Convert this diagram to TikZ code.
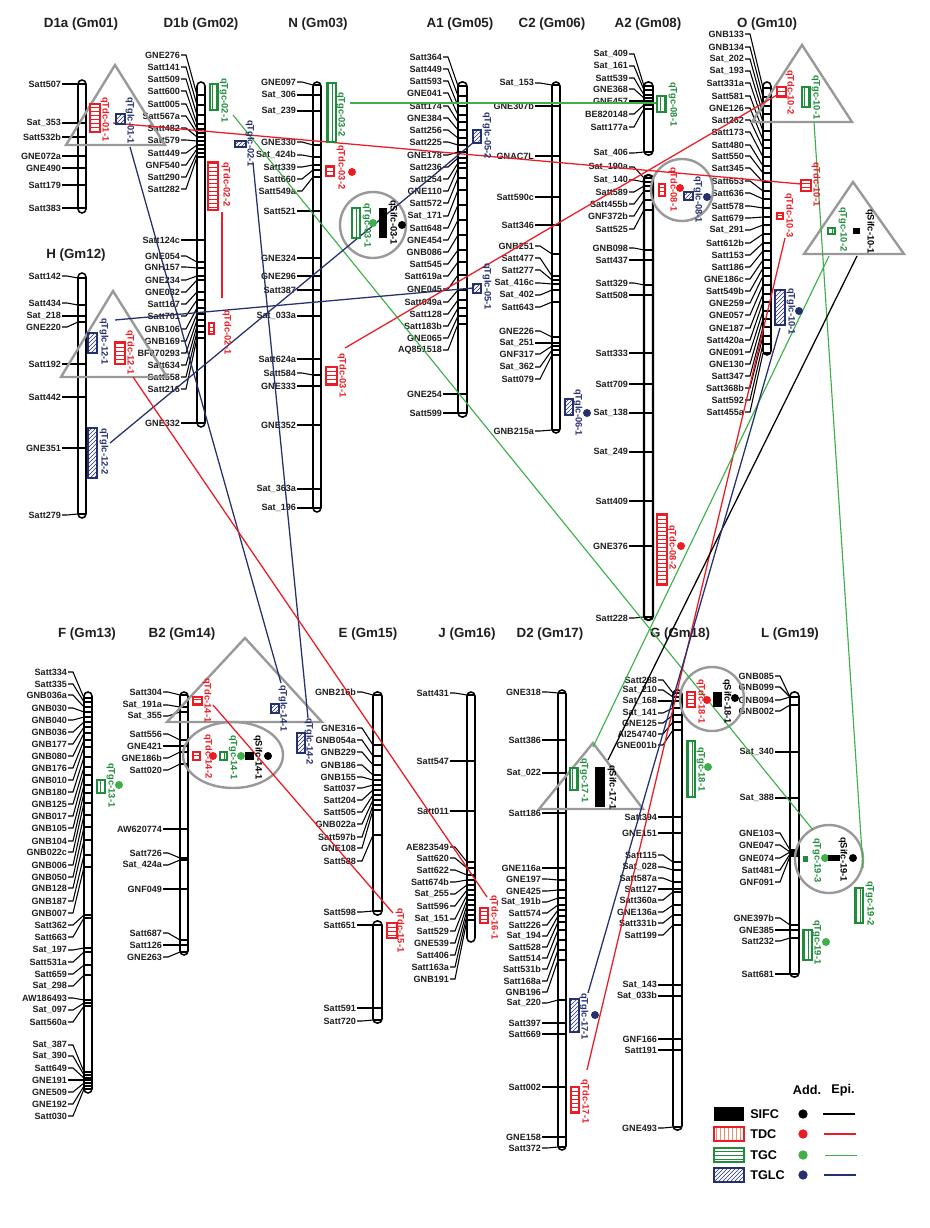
\documentclass[tikz,border=0pt]{standalone}
\usepackage{fontspec}
\setmainfont{Liberation Sans}
\usetikzlibrary{patterns}
\definecolor{qred}{HTML}{EC1C24}
\definecolor{qgreen}{HTML}{1F8B3B}
\definecolor{qlgreen}{HTML}{3DB049}
\definecolor{qblue}{HTML}{25306E}
\definecolor{qgray}{HTML}{999999}
\definecolor{qorange}{HTML}{F08C6A}
\tikzset{
 chr/.style={draw=black, line width=1.15pt, fill=white, rounded corners=3pt},
 mcon/.style={line width=0.8pt},
 mtick/.style={line width=1.15pt},
 mlab/.style={font=\fontsize{6.8}{7}\selectfont\bfseries, anchor=east, inner sep=0.6pt, text=black!88},
 ttl/.style={font=\fontsize{10}{12}\selectfont\bfseries, inner sep=0pt, text=black!88},
 qlab/.style={font=\fontsize{7}{8}\selectfont\bfseries, rotate=-90, anchor=west, inner sep=0pt},
 tdcbox/.style={draw=qred, line width=0.9pt, preaction={fill=white}, pattern=horizontal lines, pattern color=qred},
 tgcbox/.style={draw=qgreen, line width=0.9pt, preaction={fill=white}, pattern=vertical lines, pattern color=qgreen},
 tglcbox/.style={draw=qblue, line width=0.9pt, preaction={fill=white}, pattern=north east lines, pattern color=qblue},
 sifcbox/.style={fill=black},
 hilite/.style={draw=qgray, line width=1.8pt},
 epi/.style={line width=0.95pt},
 gepi/.style={line width=0.85pt, qlgreen},
 qdot/.style={circle, inner sep=0pt, minimum size=6pt, draw=none},
 legl/.style={font=\fontsize{9.5}{11}\selectfont\bfseries, anchor=west, inner sep=0pt},
 legh/.style={font=\fontsize{9.5}{11}\selectfont\bfseries, inner sep=0pt},
}
\newcommand{\chromo}[4]{\draw[chr] (#1,#3) rectangle (#2,#4);}
\newcommand{\mkset}[5]{%
 \foreach \ly/\ty/\nm in {#5}{%
   \node[mlab] (#1-\ly) at (#2,\ly) {\nm};
   \draw[mcon] (#1-\ly.east) -- (#2+5,\ly) -- (#3,\ty);
   \draw[mtick] (#3,\ty) -- (#4,\ty);
 }}
\begin{document}
\begin{tikzpicture}[x=0.75pt,y=-0.75pt]
\fill[white] (0,0) rectangle (930,1228);
\useasboundingbox (0,0) rectangle (930,1228);

% ---------- titles ----------
\node[ttl] (tD1a) at (81,24) {D1a (Gm01)};
\node[ttl] (tD1b) at (201,24) {D1b (Gm02)};
\node[ttl] (tN) at (318,24) {N (Gm03)};
\node[ttl] (tA1) at (460,24) {A1 (Gm05)};
\node[ttl] (tC2) at (552,24) {C2 (Gm06)};
\node[ttl] (tA2) at (648,24) {A2 (Gm08)};
\node[ttl] (tO) at (767,24) {O (Gm10)};
\node[ttl] (tH) at (76,255) {H (Gm12)};
\node[ttl] (tF) at (87,634) {F (Gm13)};
\node[ttl] (tB2) at (182,634) {B2 (Gm14)};
\node[ttl] (tE) at (368,634) {E (Gm15)};
\node[ttl] (tJ) at (467,634) {J (Gm16)};
\node[ttl] (tD2) at (550,634) {D2 (Gm17)};
\node[ttl] (tG) at (680,634) {G (Gm18)};
\node[ttl] (tL) at (790,634) {L (Gm19)};

% ---------- chromosomes ----------
\chromo{78}{86}{80}{213}
\mkset{d1a}{62}{78}{86}{84/84/Satt507,123/123/Sat\_353,137/137/Satt532b,156/156/GNE072a,168/168/GNE490,185/185/Satt179,208/208/Satt383}

\chromo{197}{205}{82}{427}
\mkset{d1b}{181}{197}{205}{55/95/GNE276,67/105/Satt141,79/115/Satt509,91/124/Satt600,104/129/Satt005,116/133/Satt567a,128/137/Satt482,140/141/Satt579,153/145/Satt449,165/149/GNF540,177/153/Satt290,189/157/Satt282,240/240/Satt124c,256/262/GNE054,267/268/GNH157,280/276/GNE234,292/280/GNE032,304/292/Satt167,316/300/Satt701,329/308/GNB106,341/314/GNB169,353/320/BF070293,365/326/Satt634,377/332/Satt558,389/338/Satt216,423/423/GNE332}

\chromo{78}{86}{273}{518}
\mkset{h}{62}{78}{86}{276/278/Satt142,303/305/Satt434,316/316/Sat\_218,327/322/GNE220,364/364/Satt192,397/397/Satt442,448/448/GNE351,515/514/Satt279}

\chromo{313}{321}{82}{512}
\mkset{n}{297}{313}{321}{82/85/GNE097,95/95/Sat\_306,111/111/Sat\_239,142/145/GNE330,155/157/Sat\_424b,167/165/Satt339,179/170/Satt660,191/177/Satt549a,211/211/Satt521,258/258/GNE324,276/276/GNE296,290/290/Satt387,316/316/Sat\_033a,359/359/Satt624a,373/375/Satt584,386/386/GNE333,425/425/GNE352,489/489/Sat\_363a,508/508/Sat\_196}

\chromo{458}{467}{82}{417}
\mkset{a1}{443}{458}{467}{57/86/Satt364,69/96/Satt449,81/106/Satt593,93/115/GNE041,106/122/Satt174,118/130/GNE384,130/138/Satt256,142/145/Satt225,155/152/GNE178,167/158/Satt236,179/163/Satt254,191/168/GNE110,203/178/Satt572,216/190/Sat\_171,228/205/Satt648,240/220/GNE454,252/235/GNB086,264/250/Satt545,276/262/Satt619a,289/275/GNE045,302/290/Satt049a,314/300/Satt128,326/308/Satt183b,338/316/GNE065,350/324/AQ851518,394/394/GNE254,413/413/Satt599}

\chromo{552}{560}{82}{433}
\mkset{c2}{535}{552}{560}{83/85/Sat\_153,106/106/GNE307b,156/156/GNAC7L,197/197/Satt590c,225/225/Satt346,246/254/GNB251,258/276/Satt477,270/280/Satt277,283/284/Sat\_416c,295/290/Sat\_402,307/302/Satt643,331/337/GNE226,343/343/Sat\_251,354/346/GNF317,367/350/Sat\_362,379/355/Satt079,431/430/GNB215a}

\chromo{644}{653}{82}{155}
\draw[chr, line width=1.6pt] (644,175) rectangle (653,620);
\mkset{a2}{629}{644}{653}{54/86/Sat\_409,66/90/Sat\_161,78/95/Satt539,89/98/GNE368,101/101/GNE457,114/105/BE820148,127/109/Satt177a,153/152/Sat\_406,167/178/Sat\_190a,180/182/Sat\_140,192/186/Satt589,204/191/Satt455b,216/200/GNF372b,229/210/Satt525,248/250/GNB098,260/260/Satt437,283/285/Satt329,295/295/Satt508,353/353/Satt333,384/384/Satt709,413/413/Sat\_138,452/452/Sat\_249,501/501/Satt409,546/546/GNE376,618/617/Satt228}

\chromo{763}{771}{82}{355}
\mkset{o}{745}{763}{771}{34/88/GNB133,47/97/GNB134,59/106/Sat\_202,71/114/Sat\_193,83/122/Satt331a,96/131/Satt581,108/140/GNE126,120/148/Satt262,132/157/Satt173,145/166/Satt480,156/173/Satt550,168/182/Satt345,181/191/Satt653,193/199/Satt636,206/208/Satt578,218/217/Satt679,230/225/Sat\_291,243/234/Satt612b,255/243/Satt153,267/251/Satt186,279/260/GNE186c,291/268/Satt549b,303/276/GNE259,315/285/GNE057,328/294/GNE187,340/302/Satt420a,352/311/GNE091,364/319/GNE130,376/327/Satt347,388/336/Satt368b,400/344/Satt592,412/353/Satt455a}

\chromo{84}{92}{692}{1093}
\mkset{f}{68}{84}{92}{672/698/Satt334,684/702/Satt335,695/707/GNB036a,708/712/GNB030,720/717/GNB040,732/722/GNB036,744/727/GNB177,756/733/GNB080,768/740/GNB176,780/747/GNB010,792/757/GNB180,804/767/GNB125,816/775/GNB017,828/785/GNB105,841/793/GNB104,852/803/GNB022c,865/815/GNB006,877/827/GNB050,888/840/GNB128,901/855/GNB187,913/867/GNB007,925/915/Satt362,937/918/Satt663,950/948/Sat\_197,962/952/Satt531a,974/965/Satt659,986/975/Sat\_298,998/1000/AW186493,1010/1003/Sat\_097,1022/1006/Satt560a,1045/1072/Sat\_387,1056/1075/Sat\_390,1068/1078/Satt649,1080/1080/GNE191,1092/1083/GNE509,1104/1086/GNE192,1116/1089/Satt030}

\chromo{180}{188}{692}{955}
\mkset{b2}{163}{180}{188}{692/695/Satt304,705/707/Sat\_191a,716/712/Sat\_355,734/740/Satt556,746/746/GNE421,758/752/GNE186b,770/764/Satt020,829/829/AW620774,853/858/Satt726,865/860/Sat\_424a,889/889/GNF049,933/940/Satt687,945/945/Satt126,957/952/GNE263}

\chromo{373}{382}{692}{915}
\chromo{373}{382}{921}{1023}
\mkset{e}{357}{373}{382}{692/695/GNB216b,728/745/GNE316,740/756/GNB054a,752/765/GNB229,765/775/GNB186,777/780/GNB155,788/785/Satt037,800/790/Satt204,812/795/Satt505,824/800/GNB022a,837/805/Satt597b,848/810/GNE108,861/835/Satt588,912/911/Satt598,925/925/Satt651,1008/1008/Satt591,1021/1020/Satt720}

\chromo{467}{475}{692}{942}
\mkset{j}{450}{467}{475}{693/695/Satt431,761/761/Satt547,811/811/Satt011,847/862/AE823549,858/868/Satt620,870/875/Satt622,882/880/Satt674b,894/885/Sat\_255,906/890/Satt596,919/895/Sat\_151,931/900/Satt529,943/905/GNE539,955/910/Satt406,967/915/Satt163a,979/920/GNB191}

\chromo{558}{566}{690}{1150}
\mkset{d2}{542}{558}{566}{692/693/GNE318,740/740/Satt386,773/773/Sat\_022,813/813/Satt186,868/868/GNE116a,879/880/GNE197,891/890/GNE425,902/898/Sat\_191b,913/905/Satt574,925/910/Satt226,936/916/Sat\_194,947/922/Satt528,958/930/Satt514,969/940/Satt531b,981/950/Satt168a,992/960/GNB196,1003/1000/Sat\_220,1023/1023/Satt397,1034/1034/Satt669,1087/1087/Satt002,1137/1137/GNE158,1148/1147/Satt372}

\chromo{673}{682}{690}{1130}
\mkset{g}{658}{673}{682}{680/693/Satt288,690/697/Sat\_210,701/701/Sat\_168,713/708/Sat\_141,723/715/GNE125,734/722/AI254740,745/730/GNE001b,817/817/Satt394,833/833/GNE151,855/862/Satt115,867/870/Sat\_028,878/882/Satt587a,889/889/Satt127,900/892/Satt360a,912/905/GNE136a,923/915/Satt331b,935/925/Satt199,985/985/Sat\_143,996/996/Sat\_033b,1039/1039/GNF166,1050/1050/Satt191,1128/1127/GNE493}

\chromo{790}{799}{692}{977}
\mkset{l}{775}{790}{799}{676/697/GNB085,687/697/GNB099,700/697/GNB094,711/705/GNB002,752/752/Sat\_340,798/798/Sat\_388,833/850/GNE103,845/852/GNE047,858/852/GNE074,870/854/Satt481,882/856/GNF091,918/925/GNE397b,930/930/GNE385,941/938/Satt232,974/974/Satt681}

% ---------- grey highlight shapes ----------
\draw[hilite] (115,65) -- (66,145) -- (165,145) -- cycle;
\draw[hilite] (113,291) -- (61,377) -- (167,377) -- cycle;
\draw[hilite] (373,225) circle [radius=33];
\draw[hilite] (682,190) circle [radius=31];
\draw[hilite] (802,45) -- (752,122) -- (852,122) -- cycle;
\draw[hilite] (853,182) -- (804,254) -- (904,254) -- cycle;
\draw[hilite] (245,638) -- (167,722) -- (322,722) -- cycle;
\draw[hilite] (233,755) ellipse [x radius=50, y radius=33];
\draw[hilite] (593,743) -- (539,809) -- (643,809) -- cycle;
\draw[hilite] (712,699) circle [radius=32];
\draw[hilite] (829,859) circle [radius=34];

% ---------- epistatic connectors ----------
\coordinate (e1a) at (113,123);  \coordinate (e1b) at (801,184);
\coordinate (e2a) at (130,147);  \coordinate (e2b) at (281,683);
\coordinate (e3a) at (253,163);  \coordinate (e3b) at (308,718);
\coordinate (e4a) at (233,115);  \coordinate (e4b) at (813,830);
\coordinate (e5a) at (115,320);  \coordinate (e5b) at (473,288);
\coordinate (e6a) at (110,443);  \coordinate (e6b) at (474,142);
\coordinate (e7a) at (133,377);  \coordinate (e7b) at (487,897);
\coordinate (e8a) at (350,103);  \coordinate (e8b) at (657,103);
\coordinate (e9a) at (345,348);  \coordinate (e9b) at (777,95);
\coordinate (e10a) at (213,705); \coordinate (e10b) at (393,913);
\coordinate (e11a) at (814,122); \coordinate (e11b) at (863,868);
\coordinate (e12a) at (785,238); \coordinate (e12b) at (587,1070);
\coordinate (e13a) at (829,256); \coordinate (e13b) at (593,747);
\coordinate (e14a) at (857,256); \coordinate (e14b) at (608,760);
\coordinate (e15a) at (780,328); \coordinate (e15b) at (588,993);
\draw[epi, qred] (e1a) -- (e1b);
\draw[epi, qblue] (e2a) -- (e2b);
\draw[epi, qblue] (e3a) -- (e3b);
\draw[gepi] (e4a) -- (e4b);
\draw[epi, qblue] (e5a) -- (e5b);
\draw[epi, qblue] (e6a) -- (e6b);
\draw[epi, qred] (e7a) -- (e7b);
\draw[gepi, line width=1.1pt] (e8a) -- (e8b);
\draw[epi, qred] (e9a) -- (e9b);
\draw[epi, qred] (e10a) -- (e10b);
\draw[gepi] (e11a) -- (e11b);
\draw[epi, qred] (e12a) -- (e12b);
\draw[gepi] (e13a) -- (e13b);
\draw[epi, black] (e14a) -- (e14b);
\draw[epi, qblue] (e15a) -- (e15b);
\coordinate (iv1) at (222,212); \coordinate (iv2) at (222,298);
\draw[epi, qred] (iv1) -- (iv2);

% ---------- QTL boxes, dots and labels ----------
% D1a
\draw[tdcbox] (90,104) rectangle (100,132);
\draw[tglcbox] (116,114) rectangle (125,124);
\node[qlab, text=qred] (q0101) at (105,97) {qTdc-01-1};
\node[qlab, text=qblue] (q0101b) at (130,97) {qTglc-01-1};
% D1b
\draw[tgcbox] (210,84) rectangle (218,110);
\draw[tdcbox] (208,162) rectangle (218,210);
\draw[tdcbox] (209,323) rectangle (214,334);
\draw[tglcbox] (235,141) rectangle (246,147);
\node[qlab, text=qgreen] (q0201g) at (224,78) {qTgc-02-1};
\node[qlab, text=qred] (q0202) at (226,162) {qTdc-02-2};
\node[qlab, text=qred] (q0201) at (227,310) {qTdc-02-1};
\node[qlab, text=qblue] (q0201b) at (250,120) {qTglc-02-1};
% H
\draw[tglcbox] (88,333) rectangle (97,353);
\draw[tdcbox] (115,342) rectangle (125,364);
\draw[tglcbox] (88,428) rectangle (97,478);
\node[qlab, text=qblue] (q1201b) at (104,318) {qTglc-12-1};
\node[qlab, text=qred] (q1201) at (130,330) {qTdc-12-1};
\node[qlab, text=qblue] (q1202b) at (104,428) {qTglc-12-2};
% N
\draw[tgcbox] (327,83) rectangle (336,142);
\draw[tdcbox] (326,166) rectangle (334,176);
\node[qdot, fill=qred] (dn1) at (352,172) {};
\draw[tgcbox] (352,208) rectangle (360,238);
\node[qdot, fill=qlgreen] (dn2) at (373,223) {};
\fill[sifcbox] (379,208) rectangle (387,238);
\node[qdot, fill=black] (dn3) at (402,225) {};
\draw[tdcbox] (326,367) rectangle (337,385);
\node[qlab, text=qgreen] (q0302g) at (341,92) {qTgc-03-2};
\node[qlab, text=qred] (q0302) at (341,145) {qTdc-03-2};
\node[qlab, text=qgreen] (q0301g) at (367,203) {qTgc-03-1};
\node[qlab, text=black] (q0301s) at (393,200) {qSifc-03-1};
\node[qlab, text=qred] (q0301) at (342,353) {qTdc-03-1};
% A1
\draw[tglcbox] (473,130) rectangle (481,143);
\draw[tglcbox] (473,284) rectangle (481,293);
\node[qlab, text=qblue] (q0502b) at (487,112) {qTglc-05-2};
\node[qlab, text=qblue] (q0501b) at (487,263) {qTglc-05-1};
% C2
\draw[tglcbox] (565,399) rectangle (573,415);
\node[qdot, fill=qblue] (dc1) at (587,413) {};
\node[qlab, text=qblue] (q0601b) at (578,389) {qTglc-06-1};
% A2
\draw[tgcbox] (657,96) rectangle (666,112);
\draw[tdcbox] (659,184) rectangle (665,196);
\node[qdot, fill=qred] (da1) at (680,188) {};
\draw[tglcbox] (684,192) rectangle (693,200);
\node[qdot, fill=qblue] (da2) at (707,197) {};
\draw[tdcbox] (657,514) rectangle (667,585);
\node[qdot, fill=qred] (da3) at (681,546) {};
\node[qlab, text=qgreen] (q0801g) at (673,82) {qTgc-08-1};
\node[qlab, text=qred] (q0801) at (673,167) {qTdc-08-1};
\node[qlab, text=qblue] (q0801b) at (698,176) {qTglc-08-1};
\node[qlab, text=qred] (q0802) at (672,525) {qTdc-08-2};
% O
\draw[tdcbox] (777,87) rectangle (786,97);
\draw[tgcbox] (802,87) rectangle (810,107);
\draw[tdcbox] (801,180) rectangle (811,191);
\draw[tdcbox] (777,213) rectangle (783,219);
\draw[tgcbox] (828,228) rectangle (835,234);
\fill[sifcbox] (853,228) rectangle (860,234);
\draw[tglcbox] (775,290) rectangle (785,325);
\node[qdot, fill=qblue] (do1) at (799,311) {};
\node[qlab, text=qred] (q1002) at (790,70) {qTdc-10-2};
\node[qlab, text=qgreen] (q1001g) at (816,75) {qTgc-10-1};
\node[qlab, text=qred] (q1001) at (816,162) {qTdc-10-1};
\node[qlab, text=qred] (q1003) at (789,193) {qTdc-10-3};
\node[qlab, text=qgreen] (q1002g) at (843,207) {qTgc-10-2};
\node[qlab, text=black] (q1001s) at (870,209) {qSifc-10-1};
\node[qlab, text=qblue] (q1001b) at (791,288) {qTglc-10-1};
% F
\draw[tgcbox] (97,780) rectangle (105,793);
\node[qdot, fill=qlgreen] (df1) at (119,785) {};
\node[qlab, text=qgreen] (q1301g) at (111,763) {qTgc-13-1};
% B2
\draw[tdcbox] (193,697) rectangle (202,705);
\draw[tglcbox] (271,704) rectangle (279,713);
\draw[tglcbox] (297,733) rectangle (305,753);
\draw[tdcbox] (193,752) rectangle (200,760);
\node[qdot, fill=qred] (db1) at (213,756) {};
\draw[tgcbox] (220,752) rectangle (227,760);
\node[qdot, fill=qlgreen] (db2) at (241,756) {};
\fill[sifcbox] (245,752) rectangle (254,760);
\node[qdot, fill=black] (db3) at (268,756) {};
\node[qlab, text=qred] (q1401) at (207,678) {qTdc-14-1};
\node[qlab, text=qred] (q1402) at (208,734) {qTdc-14-2};
\node[qlab, text=qgreen] (q1401g) at (233,735) {qTgc-14-1};
\node[qlab, text=black] (q1401s) at (258,735) {qSifc-14-1};
\node[qlab, text=qblue] (q1401b) at (283,685) {qTglc-14-1};
\node[qlab, text=qblue] (q1402b) at (309,718) {qTglc-14-2};
% E, J
\draw[tdcbox] (387,923) rectangle (397,938);
\node[qlab, text=qred] (q1501) at (400,908) {qTdc-15-1};
\draw[tdcbox] (480,908) rectangle (488,923);
\node[qlab, text=qred] (q1601) at (494,895) {qTdc-16-1};
% D2
\draw[tgcbox] (570,768) rectangle (578,790);
\fill[sifcbox] (595,767) rectangle (605,807);
\draw[tglcbox] (570,999) rectangle (579,1032);
\node[qdot, fill=qblue] (dd1) at (595,1015) {};
\draw[tdcbox] (571,1087) rectangle (579,1113);
\node[qlab, text=qgreen] (q1701g) at (584,758) {qTgc-17-1};
\node[qlab, text=black] (q1701s) at (612,765) {qSifc-17-1};
\node[qlab, text=qblue] (q1701b) at (584,993) {qTglc-17-1};
\node[qlab, text=qred] (q1701) at (585,1079) {qTdc-17-1};
% G
\draw[tdcbox] (687,692) rectangle (695,707);
\node[qdot, fill=qred] (dg1) at (707,700) {};
\fill[sifcbox] (713,692) rectangle (722,707);
\node[qdot, fill=black] (dg2) at (735,698) {};
\draw[tgcbox] (687,741) rectangle (695,797);
\node[qdot, fill=qlgreen] (dg3) at (708,767) {};
\node[qlab, text=qred] (q1801) at (701,679) {qTdc-18-1};
\node[qlab, text=black] (q1801s) at (727,679) {qSifc-18-1};
\node[qlab, text=qgreen] (q1801g) at (701,747) {qTgc-18-1};
% L
\fill[qgreen] (803,856) rectangle (808,862);
\node[qdot, fill=qlgreen] (dl1) at (825,858) {};
\fill[sifcbox] (828,855) rectangle (840,861);
\node[qdot, fill=black] (dl2) at (853,858) {};
\draw[tgcbox] (855,888) rectangle (863,923);
\draw[tgcbox] (803,930) rectangle (812,960);
\node[qdot, fill=qlgreen] (dl3) at (826,942) {};
\node[qlab, text=qgreen] (q1903g) at (817,838) {qTgc-19-3};
\node[qlab, text=black] (q1901s) at (843,837) {qSifc-19-1};
\node[qlab, text=qgreen] (q1902g) at (870,881) {qTgc-19-2};
\node[qlab, text=qgreen] (q1901g) at (817,920) {qTgc-19-1};

% ---------- legend ----------
\node[legh] (addh) at (807,1090) {Add.};
\node[legh] (epih) at (843,1090) {Epi.};
\fill[black] (714,1107) rectangle (744,1121);
\draw[draw=qred, line width=1.2pt, preaction={fill=white}, pattern=vertical lines, pattern color=qorange] (714,1127) rectangle (744,1141);
\draw[draw=qgreen, line width=1.2pt, preaction={fill=white}, pattern=horizontal lines, pattern color=qgreen] (714,1148) rectangle (744,1162);
\draw[draw=qblue, line width=1.2pt, preaction={fill=white}, pattern=north east lines, pattern color=qblue] (714,1168) rectangle (744,1182);
\node[legl] (lsifc) at (750,1114) {SIFC};
\node[legl] (ltdc) at (750,1134) {TDC};
\node[legl] (ltgc) at (750,1155) {TGC};
\node[legl] (ltglc) at (750,1175) {TGLC};
\node[qdot, fill=black, minimum size=7pt] (ld1) at (803,1114) {};
\node[qdot, fill=qred, minimum size=7pt] (ld2) at (803,1134) {};
\node[qdot, fill=qlgreen, minimum size=7pt] (ld3) at (803,1155) {};
\node[qdot, fill=qblue, minimum size=7pt] (ld4) at (803,1175) {};
\coordinate (ll1a) at (823,1114); \coordinate (ll1b) at (855,1114);
\coordinate (ll2a) at (824,1134); \coordinate (ll2b) at (856,1134);
\coordinate (ll3a) at (825,1155); \coordinate (ll3b) at (857,1155);
\coordinate (ll4a) at (824,1175); \coordinate (ll4b) at (856,1175);
\draw[line width=1pt, black] (ll1a) -- (ll1b);
\draw[line width=1pt, qred] (ll2a) -- (ll2b);
\draw[line width=0.7pt, qlgreen] (ll3a) -- (ll3b);
\draw[line width=1pt, qblue] (ll4a) -- (ll4b);
\end{tikzpicture}
\end{document}
